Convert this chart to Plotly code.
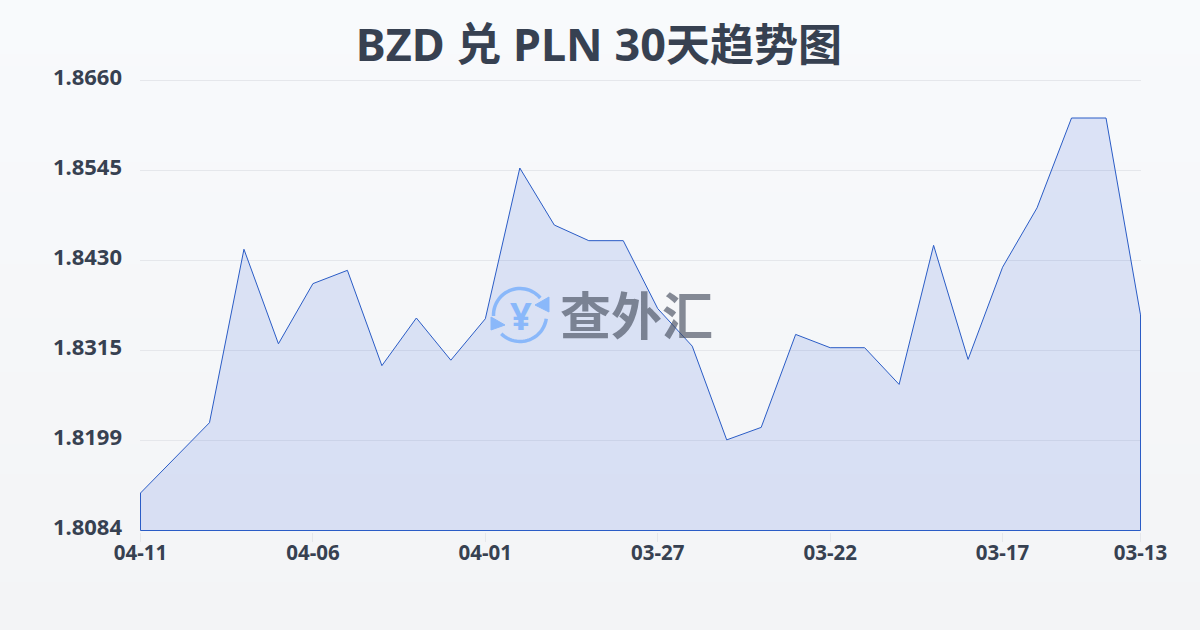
import numpy as np
import plotly.graph_objects as go

title_latin = "BZD 兑 PLN 30"
title_cjk = "天趋势图"
dates = ["04-11","04-10","04-09","04-08","04-07","04-06","04-05","04-04","04-03","04-02",
         "04-01","03-31","03-30","03-29","03-28","03-27","03-26","03-25","03-24","03-23",
         "03-22","03-21","03-20","03-19","03-18","03-17","03-16","03-15","03-14","03-13"]
rates = [1.8132,1.8177,1.8222,1.8444,1.8323,1.8400,1.8417,1.8295,1.8356,1.8302,
         1.8355,1.8548,1.8475,1.8455,1.8455,1.8368,1.8320,1.8200,1.8216,1.8335,
         1.8318,1.8318,1.8271,1.8449,1.8303,1.8421,1.8497,1.8612,1.8612,1.8360]
y_ticks = [1.8084,1.81992,1.83144,1.84296,1.85448,1.8660]
y_labels = ["1.8084","1.8199","1.8315","1.8430","1.8545","1.8660"]
x_ticks = ["04-11","04-06","04-01","03-27","03-22","03-17","03-13"]

W, H = 1200, 630
L, T, PW, PH = 140, 79, 1001, 453
INK = "#374151"
FONT = "Noto Sans, Noto Sans CJK SC, sans-serif"
ICON = "#8ab8fa"

def px(x): return (x - L) / PW
def py(y): return (T + PH - y) / PH

shapes = []
# page background gradient
top, bot = np.array([248,250,252]), np.array([243,244,246])
for i in range(0, H, 6):
    c = top + (bot - top) * i / H
    shapes.append(dict(type="rect", xref="paper", yref="paper", layer="below",
                       x0=px(0), x1=px(W), y0=py(i + 6), y1=py(i), line_width=0,
                       fillcolor=f"rgb({c[0]:.0f},{c[1]:.0f},{c[2]:.0f})"))

def path(points, close=False):
    s = "M " + " L ".join(f"{px(a):.5f},{py(b):.5f}" for a, b in points)
    return s + (" Z" if close else "")

def arc(cx, cy, r, a0, a1, n=30):
    t = np.radians(np.linspace(a0, a1, n))
    return [(cx + r*np.cos(v), cy + r*np.sin(v)) for v in t]

cx, cy = 520, 315
arrows = [
    (arc(cx, cy, 26.5, 178, 320), [(549,297),(549,312),(535,305)]),
    (arc(cx, cy, 26.5, 8, 135), [(491,317),(491,330),(505,325)]),
]
for pts, head in arrows:
    shapes.append(dict(type="path", xref="paper", yref="paper", path=path(pts),
                       line=dict(color=ICON, width=3.5)))
    shapes.append(dict(type="path", xref="paper", yref="paper", path=path(head, True),
                       fillcolor=ICON, line=dict(color=ICON, width=1)))

fig = go.Figure(go.Scatter(
    x=dates + [dates[-1], dates[0], dates[0]],
    y=rates + [y_ticks[0], y_ticks[0], rates[0]],
    mode="lines", fill="toself", cliponaxis=False,
    fillcolor="rgba(29,78,216,0.13)",
    line=dict(color="#2a5cc6", width=1),
    hoverinfo="skip",
))

fig.update_layout(
    width=W, height=H, margin=dict(l=L, r=W-L-PW, t=T, b=H-T-PH, pad=0),
    paper_bgcolor="#f6f7f9", plot_bgcolor="rgba(0,0,0,0)",
    showlegend=False, shapes=shapes,
    title=dict(text=f'{title_latin}<span style="font-size:44px">{title_cjk}</span>',
               x=0.499, xanchor="center", y=0.928, yanchor="middle",
               font=dict(family=FONT, size=45, color=INK, weight="bold")),
    annotations=[
        dict(text="查外汇", xref="paper", yref="paper", x=px(636), y=py(313), showarrow=False,
             xanchor="center", yanchor="middle",
             font=dict(family="Noto Sans CJK SC", size=51, color="rgba(70,78,95,0.65)", weight="bold")),
        dict(text="¥", xref="paper", yref="paper", x=px(520.5), y=py(315), showarrow=False,
             xanchor="center", yanchor="middle",
             font=dict(family="Noto Sans, sans-serif", size=38, color=ICON, weight="bold")),
    ],
)
xpad = 0.5 / 1000 * (len(dates) - 1)
ypad = 1.5 / 450 * (y_ticks[-1] - y_ticks[0])
fig.update_xaxes(type="category", categoryorder="array", categoryarray=dates,
                 range=[-xpad, len(dates) - 1 + xpad], tickmode="array", tickvals=x_ticks, ticktext=x_ticks,
                 showgrid=False, zeroline=False, showline=False,
                 ticks="outside", ticklen=9, tickcolor="#e5e7eb", tickwidth=1, ticklabelstandoff=-7,
                 tickfont=dict(family=FONT, size=20.5, color=INK, weight="bold"))
fig.update_yaxes(range=[y_ticks[0] - ypad, y_ticks[-1] + ypad], tickmode="array", tickvals=y_ticks, ticktext=y_labels,
                 showgrid=True, gridcolor="#e5e7eb", gridwidth=1, zeroline=False, showline=False,
                 ticks="", ticklabelstandoff=17, ticklabelshift=-3,
                 tickfont=dict(family=FONT, size=22, color=INK, weight="bold"))

fig.write_html("out.html", config=dict(displayModeBar=False),
               post_script="document.body.style.margin='0';")
